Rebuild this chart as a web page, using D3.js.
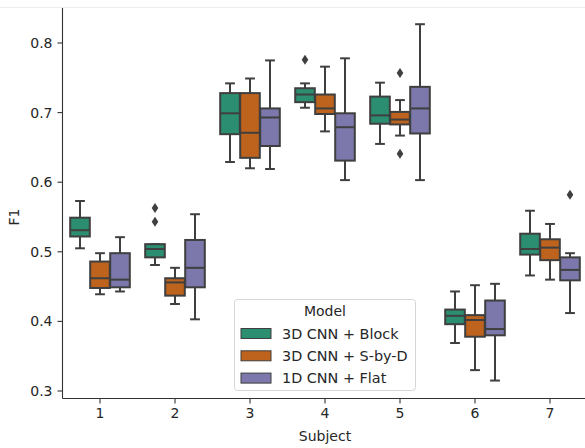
<!DOCTYPE html>
<html><head><meta charset="utf-8">
<script src="https://cdn.jsdelivr.net/npm/d3@7"></script>
<style>body{margin:0;background:#fff}svg{display:block}text{font-family:"DejaVu Sans",sans-serif;fill:#262626}</style>
</head><body>
<script>
const subjects = ["1","2","3","4","5","6","7"];
const models = ["3D CNN + Block","3D CNN + S-by-D","1D CNN + Flat"];
const colors = ["#2b8e70","#be631d","#7c78ab"];
const yTicks = [0.3,0.4,0.5,0.6,0.7,0.8];
// per model: arrays over subjects 1..7
const whiskerLow = [
  [0.505,0.481,0.629,0.707,0.655,0.369,0.466],
  [0.439,0.425,0.620,0.673,0.667,0.330,0.460],
  [0.443,0.403,0.619,0.603,0.603,0.315,0.412]];
const q1 = [
  [0.522,0.492,0.669,0.715,0.684,0.396,0.496],
  [0.448,0.437,0.635,0.698,0.683,0.378,0.488],
  [0.449,0.449,0.652,0.631,0.670,0.380,0.459]];
const median = [
  [0.531,0.504,0.699,0.726,0.696,0.408,0.504],
  [0.462,0.456,0.671,0.706,0.690,0.402,0.506],
  [0.460,0.477,0.693,0.679,0.706,0.389,0.474]];
const q3 = [
  [0.549,0.511,0.728,0.735,0.723,0.417,0.526],
  [0.486,0.462,0.728,0.726,0.701,0.409,0.518],
  [0.498,0.517,0.706,0.699,0.737,0.430,0.492]];
const whiskerHigh = [
  [0.573,0.511,0.742,0.742,0.743,0.443,0.559],
  [0.498,0.477,0.749,0.766,0.718,0.452,0.540],
  [0.521,0.554,0.775,0.778,0.827,0.454,0.498]];
// outliers: [modelIndex, subjectIndex, value]
const outliers = [[0,1,0.563],[0,1,0.543],[0,3,0.776],[1,4,0.757],[1,4,0.641],[2,6,0.582]];

const W=585,H=448;
const FS=14;
const svg=d3.select("body").append("svg").attr("width",W).attr("height",H);
const x=d3.scaleBand().domain(subjects).range([62.5,587.5]);
const y=d3.scaleLinear().domain([0.3,0.8]).range([391,43]);
const plotTop=8,plotBottom=398.5;
const inner=d3.scaleBand().domain(d3.range(3)).range([0,x.bandwidth()*0.8]);
const off=x.bandwidth()*0.1;
const boxW=inner.bandwidth()*0.98;
const line="#3f3f3f";

// faint top line
svg.append("line").attr("x1",0).attr("x2",W).attr("y1",7.5).attr("y2",7.5).attr("stroke","#ececec").attr("stroke-width",1);

models.forEach((m,mi)=>{
  const g=svg.append("g");
  subjects.forEach((s,si)=>{
    const cx=x(s)+off+inner(mi)+inner.bandwidth()/2;
    g.append("line").attr("x1",cx).attr("x2",cx).attr("y1",y(whiskerHigh[mi][si])).attr("y2",y(q3[mi][si])).attr("stroke",line).attr("stroke-width",2);
    g.append("line").attr("x1",cx).attr("x2",cx).attr("y1",y(q1[mi][si])).attr("y2",y(whiskerLow[mi][si])).attr("stroke",line).attr("stroke-width",2);
    [whiskerHigh[mi][si],whiskerLow[mi][si]].forEach(v=>{
      g.append("line").attr("x1",cx-boxW/4).attr("x2",cx+boxW/4).attr("y1",y(v)).attr("y2",y(v)).attr("stroke",line).attr("stroke-width",2);
    });
    g.append("rect").attr("x",cx-boxW/2).attr("width",boxW).attr("y",y(q3[mi][si])).attr("height",y(q1[mi][si])-y(q3[mi][si]))
      .attr("fill",colors[mi]).attr("stroke",line).attr("stroke-width",2);
    g.append("line").attr("x1",cx-boxW/2).attr("x2",cx+boxW/2).attr("y1",y(median[mi][si])).attr("y2",y(median[mi][si])).attr("stroke",line).attr("stroke-width",2);
  });
});
outliers.forEach(([mi,si,v])=>{
  const cx=x(subjects[si])+off+inner(mi)+inner.bandwidth()/2, cy=y(v);
  svg.append("path").attr("d",`M${cx},${cy-5}L${cx+3.3},${cy}L${cx},${cy+5}L${cx-3.3},${cy}Z`).attr("fill",line);
});

// axes
const ax=svg.append("g");
ax.append("line").attr("x1",62.5).attr("x2",62.5).attr("y1",plotTop).attr("y2",plotBottom).attr("stroke","#333").attr("stroke-width",1.1);
ax.append("line").attr("x1",62.5).attr("x2",W).attr("y1",plotBottom).attr("y2",plotBottom).attr("stroke","#333").attr("stroke-width",1.1);
yTicks.forEach(t=>{
  ax.append("line").attr("x1",57.5).attr("x2",62.5).attr("y1",y(t)).attr("y2",y(t)).attr("stroke","#333").attr("stroke-width",1.1);
  ax.append("text").attr("x",52.5).attr("y",y(t)).attr("dy","0.36em").attr("text-anchor","end").attr("font-size",FS).text(t.toFixed(1));
});
subjects.forEach(s=>{
  const cx=x(s)+x.bandwidth()/2;
  ax.append("line").attr("x1",cx).attr("x2",cx).attr("y1",plotBottom).attr("y2",plotBottom+5).attr("stroke","#333").attr("stroke-width",1.1);
  ax.append("text").attr("x",cx).attr("y",plotBottom+19.5).attr("text-anchor","middle").attr("font-size",FS).text(s);
});
svg.append("text").attr("x",325).attr("y",440.5).attr("text-anchor","middle").attr("font-size",FS).text("Subject");
svg.append("text").attr("transform","translate(19,217) rotate(-90)").attr("text-anchor","middle").attr("font-size",FS).text("F1");

// legend
const lg=svg.append("g");
lg.append("rect").attr("x",234.5).attr("y",299.5).attr("width",181).attr("height",91).attr("rx",3).attr("fill","rgba(255,255,255,0.8)").attr("stroke","#d6d6d6");
lg.append("text").attr("x",325).attr("y",311).attr("dy","0.36em").attr("text-anchor","middle").attr("font-size",FS).text("Model");
models.forEach((m,i)=>{
  const cy=333.5+i*22.3;
  lg.append("rect").attr("x",241).attr("y",cy-5).attr("width",30).attr("height",10).attr("fill",colors[i]).attr("stroke",line).attr("stroke-width",1);
  lg.append("text").attr("x",282).attr("y",cy).attr("dy","0.36em").attr("font-size",14.4).text(m);
});
</script>
</body></html>
